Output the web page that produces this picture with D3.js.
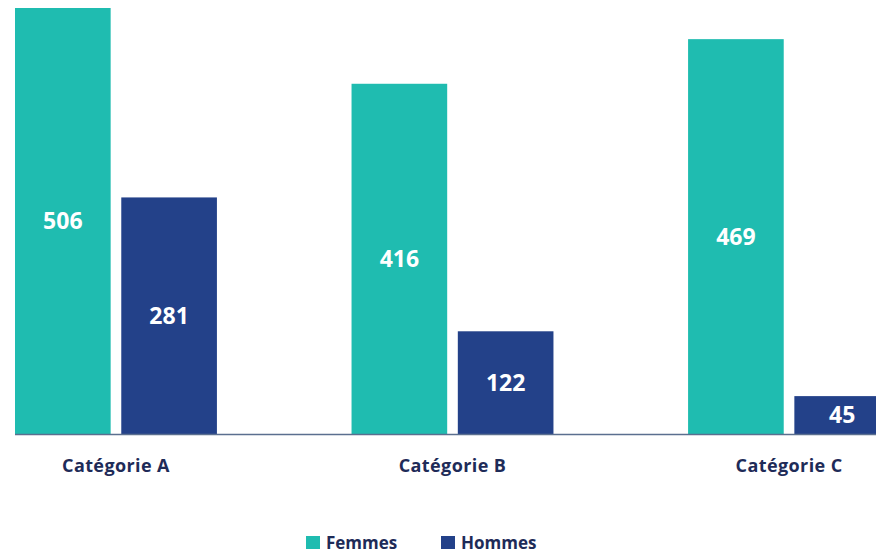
<!DOCTYPE html>
<html><head><meta charset="utf-8">
<script src="https://cdn.jsdelivr.net/npm/d3@7"></script>
<style>body{margin:0;background:#fff}svg{display:block}</style>
</head><body>
<svg id="c" width="876" height="555"></svg>
<script>
const categories = ["Catégorie A", "Catégorie B", "Catégorie C"];
const seriesNames = ["Femmes", "Hommes"];
const femmes = [506, 416, 469];
const hommes = [281, 122, 45];
const colors = ["#1fbcb0", "#234189"];

const svg = d3.select("#c");
const font = "'Open Sans', sans-serif";
const x0 = d3.scaleBand().domain(categories).range([15, 890]).paddingInner(0.4).paddingOuter(0);
const x1 = d3.scaleBand().domain(seriesNames).range([0, x0.bandwidth()]).paddingInner(0.1).paddingOuter(0);
const y = d3.scaleLinear().domain([0, 506]).range([434, 8]);
const color = d3.scaleOrdinal().domain(seriesNames).range(colors);

const data = categories.map((c, i) => ({cat: c, vals: [
  {s: "Femmes", v: femmes[i]}, {s: "Hommes", v: hommes[i]}]}));

const g = svg.selectAll("g.grp").data(data).join("g")
  .attr("class", "grp").attr("transform", d => `translate(${x0(d.cat)},0)`);
g.selectAll("rect").data(d => d.vals).join("rect")
  .attr("x", d => x1(d.s)).attr("width", x1.bandwidth())
  .attr("y", d => y(d.v)).attr("height", d => y(0) - y(d.v))
  .attr("fill", d => color(d.s));
g.selectAll("text.val").data(d => d.vals).join("text")
  .attr("class", "val")
  .attr("x", d => x1(d.s) + x1.bandwidth() / 2)
  .attr("y", d => (y(d.v) + y(0)) / 2)
  .attr("dy", "0.35em").attr("text-anchor", "middle")
  .attr("fill", "#fff").style("font-family", font).style("font-weight", 700).style("font-size", "23px")
  .text(d => d.v);

svg.append("line").attr("x1", 15).attr("x2", 876).attr("y1", 434.5).attr("y2", 434.5)
  .attr("stroke", "#5b6f8f").attr("stroke-width", 1.5);

const xAxis = svg.append("g").attr("transform", "translate(0,434)")
  .call(d3.axisBottom(x0).tickSize(0).tickPadding(0));
xAxis.select(".domain").remove();
xAxis.selectAll("text").attr("y", 38).attr("dy", 0)
  .attr("fill", "#1e2b58").style("font-family", font).style("font-weight", 700)
  .style("font-size", "18px").style("letter-spacing", "0.4px");

const legendX = [306, 441];
const lg = svg.selectAll("g.leg").data(seriesNames).join("g").attr("class", "leg")
  .attr("transform", (d, i) => `translate(${legendX[i]},536)`);
lg.append("rect").attr("width", 14).attr("height", 13).attr("fill", d => color(d));
lg.append("text").attr("x", 20).attr("y", 13).attr("fill", "#1e2b58")
  .style("font-family", font).style("font-weight", 700).style("font-size", "17px").text(d => d);
</script>
</body></html>
